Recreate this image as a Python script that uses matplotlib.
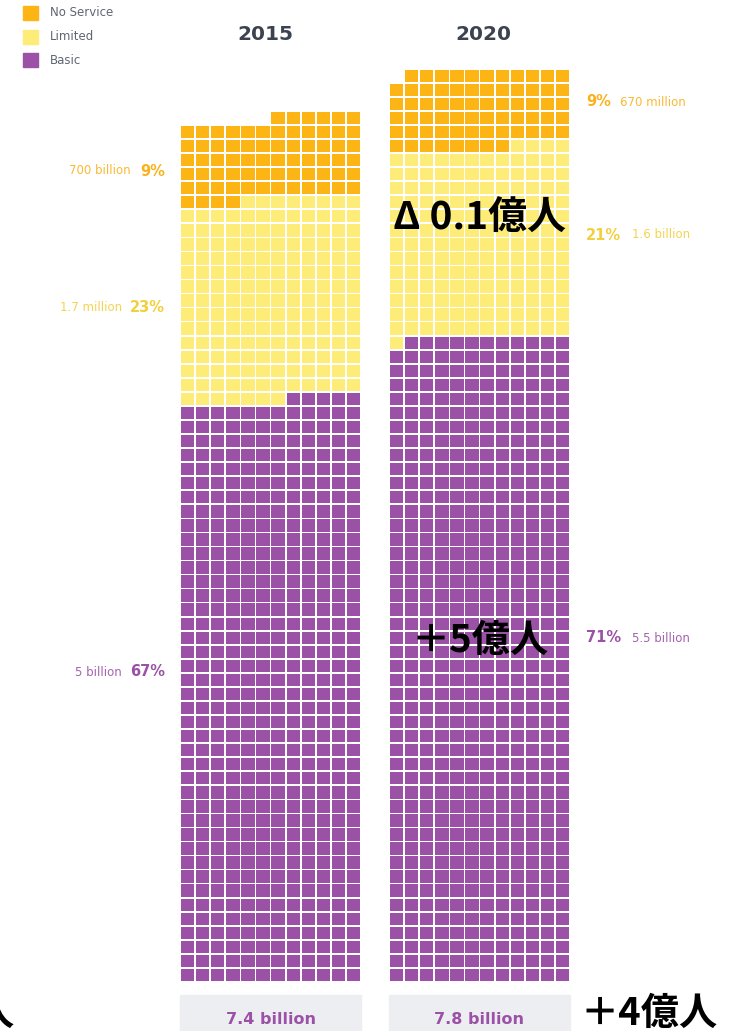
import matplotlib
matplotlib.use("Agg")
import matplotlib.pyplot as plt
from matplotlib.patches import Rectangle

W, H = 740, 1031

# waffle data: cells (~10 million people each), filled from bottom-right
categories = ["Basic", "Limited", "No Service"]
colors = ["#9b51a6", "#fdec78", "#fdb415"]
text_colors = ["#9b51a6", "#f2cf3c", "#f9b21e"]
cells_2015 = [497, 171, 70]
cells_2020 = [551, 161, 67]
years = ["2015", "2020"]
totals = ["7.4 billion", "7.8 billion"]
pct_2015 = ["67%", "23%", "9%"]
amt_2015 = ["5 billion", "1.7 million", "700 billion"]
pct_2020 = ["71%", "21%", "9%"]
amt_2020 = ["5.5 billion", "1.6 billion", "670 million"]
ncols = 12


def fx(x):
    return x / W


def fy(y):
    return 1 - y / H


fig = plt.figure(figsize=(W / 100, H / 100), dpi=100)
fig.patch.set_facecolor("white")

row_px = 14.05
col_px = 15.1
bottom_px = 982


def waffle(left_px, counts):
    total = sum(counts)
    nrows = -(-total // ncols)
    ax = fig.add_axes([fx(left_px), fy(bottom_px), ncols * col_px / W, nrows * row_px / H])
    xs, ys, cs = [], [], []
    i = 0
    for n, c in zip(counts, colors):
        for _ in range(n):
            xs.append(ncols - 1 - i % ncols + 0.5)
            ys.append(i // ncols)
            cs.append(c)
            i += 1
    gx, gy = 0.89, 0.88
    ax.bar(xs, [gy] * len(xs), width=gx, bottom=[y + (1 - gy) / 2 for y in ys],
           color=cs, linewidth=0)
    ax.set_xlim(0, ncols)
    ax.set_ylim(0, nrows)
    ax.axis("off")
    return nrows


waffle(180, cells_2015)
waffle(389, cells_2020)

# year titles
for x, yr in zip([265, 483], years):
    fig.text(fx(x), fy(35), yr, ha="center", va="center", fontsize=14.5,
             fontweight="bold", color="#3b4350")

# legend
for y, name, c in zip([13, 37, 60], categories[::-1], colors[::-1]):
    fig.patches.append(Rectangle((fx(23), fy(y + 7)), 15 / W, 14 / H,
                                 transform=fig.transFigure, color=c))
    fig.text(fx(50), fy(y), name, ha="left", va="center", fontsize=8.5,
             color="#5d6672")

# left labels (2015)
for y, p, a, ax_, c in zip([672, 308, 171], pct_2015, amt_2015, [122, 122, 131], text_colors):
    fig.text(fx(165), fy(y), p, ha="right", va="center", fontsize=10.5,
             fontweight="bold", color=c)
    fig.text(fx(ax_), fy(y), a, ha="right", va="center", fontsize=8.5,
             color=c, alpha=0.9)

# right labels (2020)
for y, p, a, ax_, c in zip([638, 235, 102], pct_2020, amt_2020, [632, 632, 620], text_colors):
    fig.text(fx(586), fy(y), p, ha="left", va="center", fontsize=10.5,
             fontweight="bold", color=c)
    fig.text(fx(ax_), fy(y), a, ha="left", va="center", fontsize=8.5,
             color=c, alpha=0.9)

# total boxes
for x, tot in zip([180, 389], totals):
    fig.patches.append(Rectangle((fx(x), fy(1031)), 181 / W, 36 / H,
                                 transform=fig.transFigure, color="#eceef1"))
    fig.text(fx(x + 90.5), fy(1020), tot, ha="center", va="center",
             fontsize=11.5, fontweight="bold", color="#9b51a6")

# japanese annotations
jp = ["Noto Sans CJK JP", "DejaVu Sans"]
fig.text(fx(393), fy(218), "Δ 0.1億人", ha="left", va="center", fontsize=28,
         fontweight="bold", family=jp, color="black")
fig.text(fx(411), fy(640), "＋5億人", ha="left", va="center", fontsize=27.5,
         fontweight="bold", family=jp, color="black")
fig.text(fx(580), fy(1013), "＋4億人", ha="left", va="center", fontsize=27.5,
         fontweight="bold", family=jp, color="black")
fig.text(fx(-25), fy(1013), "人", ha="left", va="center", fontsize=27.5,
         fontweight="bold", family=jp, color="black")

fig.savefig("out.png", dpi=100)
